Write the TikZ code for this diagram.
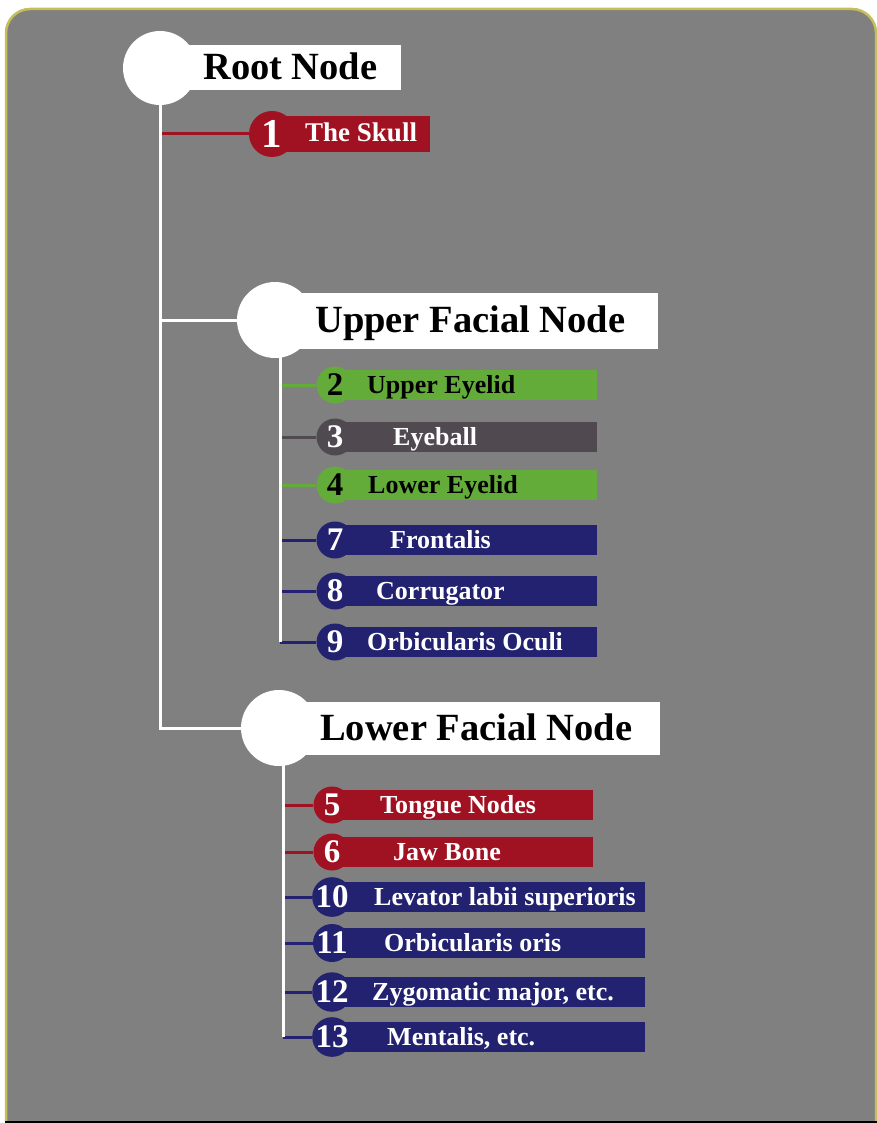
\documentclass[tikz,border=0pt]{standalone}
\usepackage{fontspec}
\setmainfont{Liberation Serif}
\usetikzlibrary{positioning}
\definecolor{panel}{RGB}{128,128,128}
\definecolor{rim}{RGB}{198,190,90}
\definecolor{wine}{RGB}{160,17,33}
\definecolor{leaf}{RGB}{100,172,58}
\definecolor{ash}{RGB}{80,74,80}
\definecolor{navy}{RGB}{34,34,112}
\tikzset{
  trunk/.style={draw=white, line width=3pt},
  stub/.style={line width=3pt},
  hubdot/.style={circle, fill=white, minimum size=76pt, inner sep=0pt},
  headbox/.style={fill=white, anchor=west, inner sep=0pt},
  headtext/.style={anchor=base west, inner sep=0pt, font=\fontsize{38.5}{40}\selectfont\bfseries},
  numdot/.style={circle, minimum size=37pt, inner sep=0pt, font=\fontsize{33}{33}\selectfont\bfseries},
  barbox/.style={anchor=west, inner sep=0pt, minimum height=30pt},
  bartext/.style={anchor=base west, inner sep=0pt, font=\fontsize{26}{26}\selectfont\bfseries}
}
\begin{document}
\begin{tikzpicture}[x=1pt, y=-1pt]
    \useasboundingbox (0,0) rectangle (877,1123);
    % Panel
    \draw[rim, fill=panel, line width=2.5pt, rounded corners=24pt] (6,1121) -- (6,9) -- (876,9) -- (876,1121);
    \draw[black, line width=2pt] (5,1122) -- (877,1122);

    % Root
    \node[headbox, minimum width=241pt, minimum height=45pt] (rootbox) at (160,67.5) {};
    \node[hubdot, minimum size=74pt] (root) at (160,68) {};
    \node[headtext] (roottxt) at (203,80) {Root Node};

    % The skull
    \node[barbox, fill=wine, minimum width=158pt, minimum height=36pt] (b1) at (272,134) {};
    \node[numdot, fill=wine, text=white, minimum size=46pt, font=\fontsize{41}{41}\selectfont\bfseries] (n1) at (272,134) {1};
    \node[bartext, text=white, font=\fontsize{27}{27}\selectfont\bfseries] (t1) at (305,142) {The Skull};

    % Upper facial
    \node[headbox, minimum width=383pt, minimum height=56pt] (upbox) at (275,321) {};
    \node[hubdot] (up) at (275,320) {};
    \node[headtext] (uptxt) at (315,332) {Upper Facial Node};
    \coordinate (utop) at (280,355);
    \foreach \n/\y/\x/\c/\f/\lbl in {2/385/367/leaf/black/Upper Eyelid,
                                      3/437/393/ash/white/Eyeball,
                                      4/485/368/leaf/black/Lower Eyelid,
                                      7/540/390/navy/white/Frontalis,
                                      8/591/376/navy/white/Corrugator,
                                      9/642/367/navy/white/Orbicularis Oculi}{
        \node[barbox, fill=\c, minimum width=262pt] (b\n) at (335,\y) {};
        \node[numdot, fill=\c, text=\f] (n\n) at (335,\y) {\n};
        \node[bartext, text=\f] (t\n) at (\x,\y+8) {\lbl};
        \draw[stub, \c] (utop |- n\n) -- (n\n);
    }
    \draw[trunk] (utop) -- (utop |- n9);

    % Lower facial
    \node[headbox, minimum width=378pt, minimum height=53pt] (lowbox) at (282,728.5) {};
    \node[hubdot] (low) at (279,728) {};
    \node[headtext] (lowtxt) at (320,740) {Lower Facial Node};
    \coordinate (ltop) at (283,763);
    \foreach \n/\y/\x/\e/\c in {5/805/380/593/wine,
                                6/852/393/593/wine,
                                10/897/374/645/navy,
                                11/943/384/645/navy,
                                12/992/372/645/navy,
                                13/1037/387/645/navy}{
        \node[barbox, fill=\c, minimum width={\e pt-332pt}] (b\n) at (332,\y) {};
        \node[numdot, fill=\c, text=white] (n\n) at (332,\y) {\n};
        \draw[stub, \c] (ltop |- n\n) -- (n\n);
    }
    \node[bartext, text=white] (t5) at (380,813) {Tongue Nodes};
    \node[bartext, text=white] (t6) at (393,860) {Jaw Bone};
    \node[bartext, text=white] (t10) at (374,905) {Levator labii superioris};
    \node[bartext, text=white] (t11) at (384,951) {Orbicularis oris};
    \node[bartext, text=white] (t12) at (372,1000) {Zygomatic major, etc.};
    \node[bartext, text=white] (t13) at (387,1045) {Mentalis, etc.};
    \draw[trunk] (ltop) -- (ltop |- n13);

    % Main trunk
    \draw[stub, wine] (root |- n1) -- (n1);
    \draw[trunk] (root) -- (root |- low) -- (low);
    \draw[trunk] (root |- up) -- (up);
\end{tikzpicture}
\end{document}
